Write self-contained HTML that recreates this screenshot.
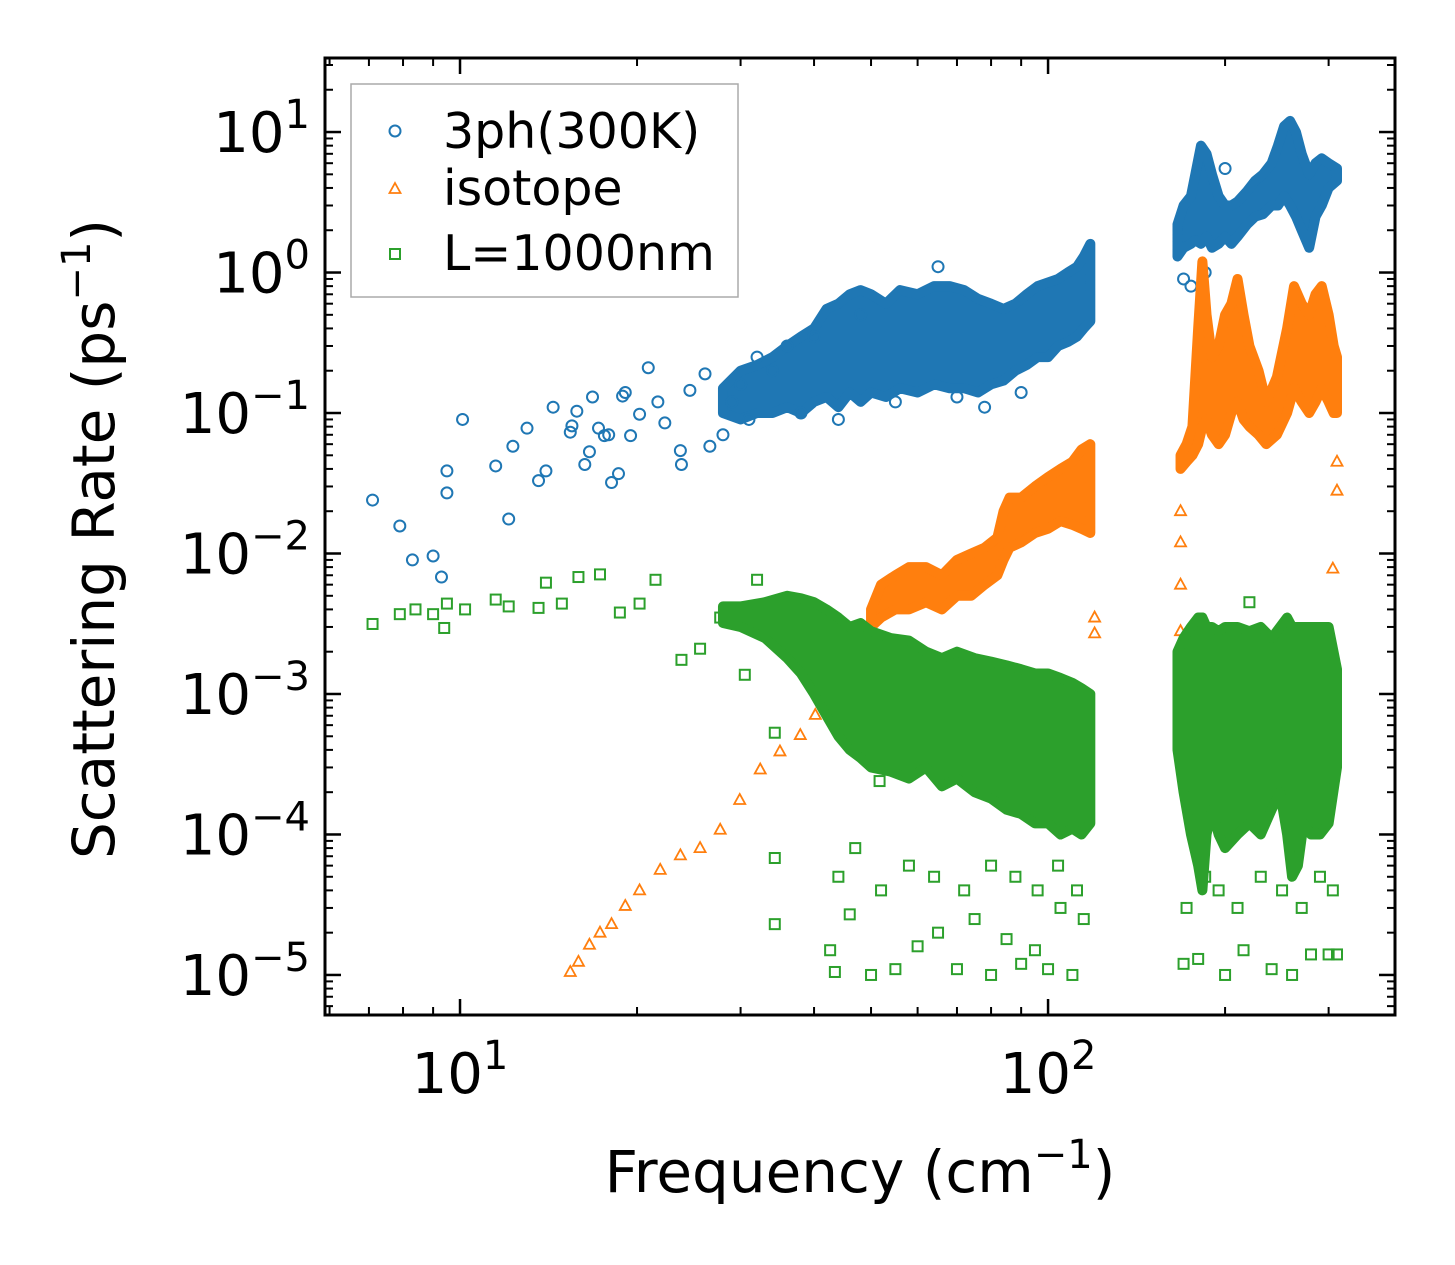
<!DOCTYPE html>
<html><head><meta charset="utf-8">
<style>
html,body{margin:0;padding:0;background:#fff;}
svg{display:block;font-family:"DejaVu Sans","Liberation Sans",sans-serif;}
</style></head>
<body>
<svg id="chart" width="1455" height="1265" viewBox="0 0 1455 1265" xmlns="http://www.w3.org/2000/svg">
<g id="marks"></g>
<g id="axes"></g>
</svg>
<script>
// ---- data ----
const blueF = [7.1,7.9,8.3,9.0,9.3,9.5,9.5,10.1,11.5,12.1,12.3,13.0,13.6,14.0,14.4,15.4,15.5,15.8,16.3,16.6,16.8,17.2,17.6,17.9,18.1,18.6,18.9,19.1,19.5,20.2,20.9,21.7,22.3,23.7,23.8,24.6,26.1,26.6,28,29,30,31,32,34,36,38,40,44,48,55,65,70,78,90,170,175,200,185];
const blueV = [0.024,0.0157,0.009,0.0096,0.0068,0.027,0.0387,0.09,0.042,0.0176,0.058,0.078,0.033,0.0387,0.11,0.073,0.081,0.103,0.043,0.053,0.13,0.078,0.069,0.07,0.032,0.037,0.132,0.14,0.069,0.098,0.21,0.12,0.085,0.054,0.043,0.145,0.19,0.058,0.07,0.12,0.16,0.09,0.25,0.2,0.3,0.1,0.35,0.09,0.5,0.12,1.1,0.13,0.11,0.14,0.9,0.8,5.5,1.0];
const blueBandF1 = [28,30,32,34,36,38,40,42,44,46,48,50,53,56,60,64,68,72,76,80,84,88,92,96,100,104,108,112,115,118];
const blueBandLo1 = [0.1,0.09,0.1,0.1,0.11,0.1,0.12,0.13,0.11,0.14,0.12,0.14,0.13,0.15,0.14,0.16,0.15,0.15,0.14,0.16,0.17,0.2,0.22,0.25,0.25,0.3,0.32,0.35,0.4,0.45];
const blueBandHi1 = [0.15,0.2,0.22,0.25,0.3,0.35,0.4,0.55,0.6,0.7,0.75,0.7,0.6,0.75,0.7,0.8,0.8,0.75,0.65,0.6,0.55,0.6,0.7,0.8,0.85,0.9,1.0,1.1,1.3,1.6];
const blueBandF2 = [166,170,175,178,182,186,190,195,200,205,210,218,225,232,240,246,252,258,264,270,278,285,292,300,310];
const blueBandLo2 = [1.3,1.5,1.6,1.7,1.6,1.8,1.5,1.6,1.8,1.6,1.8,2.2,2.5,2.6,3.0,3.0,3.5,3.0,2.5,2.0,1.5,2.5,3.0,4.0,4.5];
const blueBandHi2 = [2.2,3.0,3.5,5.0,8.0,7.0,5.0,3.5,3.0,3.0,3.2,3.8,4.5,5.0,6.0,8.0,11,12,10,7.0,5.0,6.0,6.5,6.0,5.5];
const orangeF = [15.4,15.9,16.6,17.3,18.1,19.1,20.2,21.9,23.7,25.6,27.7,29.9,32.4,35.0,37.9,40.2,41.7,168,168,168,168,305,310,310,120,120,168,44,48];
const orangeV = [1.05e-5,1.24e-5,1.64e-5,2.0e-5,2.3e-5,3.1e-5,4.0e-5,5.6e-5,7.1e-5,8.0e-5,1.08e-4,1.76e-4,2.9e-4,3.9e-4,5.1e-4,7.1e-4,9.1e-4,0.02,0.012,0.006,0.0028,0.0078,0.028,0.045,0.0035,0.0027,0.0016,0.0012,0.0025];
const orangeBandF1 = [50,52,55,58,62,66,70,74,78,82,84,86,90,95,100,105,110,114,118];
const orangeBandLo1 = [0.003,0.0035,0.004,0.004,0.0045,0.004,0.005,0.005,0.006,0.007,0.009,0.011,0.012,0.014,0.015,0.017,0.016,0.015,0.014];
const orangeBandHi1 = [0.004,0.006,0.007,0.008,0.008,0.007,0.009,0.01,0.011,0.013,0.02,0.025,0.025,0.03,0.035,0.04,0.045,0.055,0.06];
const orangeBandF2 = [168,172,176,180,183,186,190,195,200,205,210,215,220,228,235,245,255,262,270,278,285,292,300,306,310];
const orangeBandLo2 = [0.04,0.045,0.05,0.06,0.08,0.09,0.07,0.06,0.07,0.1,0.12,0.09,0.08,0.07,0.06,0.07,0.1,0.15,0.12,0.1,0.12,0.15,0.12,0.1,0.1];
const orangeBandHi2 = [0.05,0.06,0.08,0.4,1.2,0.5,0.25,0.3,0.5,0.6,0.9,0.5,0.3,0.2,0.12,0.18,0.4,0.8,0.6,0.5,0.7,0.8,0.5,0.3,0.25];
const greenF = [7.1,7.9,8.4,9.0,9.4,9.5,10.2,11.5,12.1,13.6,14.0,14.9,15.9,17.3,18.7,20.2,21.5,23.8,25.6,27.7,30.5,32,34.3,34.3,34.3,42.6,43.4,46,51.7,50,55,60,70,80,90,100,110,65,75,85,95,105,115,170,180,200,215,240,260,280,300,310,220,44,47,52,58,64,72,80,88,96,104,112,172,185,195,210,230,250,270,290,305];
const greenV = [0.00315,0.0037,0.004,0.0037,0.00295,0.0044,0.004,0.0047,0.0042,0.0041,0.0062,0.0044,0.0068,0.0071,0.0038,0.0044,0.0065,0.00175,0.0021,0.0035,0.00137,0.0065,0.00053,6.8e-5,2.3e-5,1.5e-5,1.05e-5,2.7e-5,2.4e-4,1e-5,1.1e-5,1.6e-5,1.1e-5,1e-5,1.2e-5,1.1e-5,1e-5,2e-5,2.5e-5,1.8e-5,1.5e-5,3e-5,2.5e-5,1.2e-5,1.3e-5,1e-5,1.5e-5,1.1e-5,1e-5,1.4e-5,1.4e-5,1.4e-5,0.0045,5e-5,8e-5,4e-5,6e-5,5e-5,4e-5,6e-5,5e-5,4e-5,6e-5,4e-5,3e-5,5e-5,4e-5,3e-5,5e-5,4e-5,3e-5,5e-5,4e-5];
const greenBandF1 = [28,30,33,36,38,40,42,44,46,48,50,54,58,62,66,70,75,80,85,90,95,100,105,110,114,118];
const greenBandLo1 = [0.0032,0.003,0.0025,0.0018,0.0014,0.001,0.0007,0.0005,0.0004,0.00035,0.0003,0.00028,0.00025,0.0003,0.00022,0.00025,0.0002,0.00018,0.00015,0.00014,0.00012,0.00012,0.0001,0.00011,0.0001,0.00012];
const greenBandHi1 = [0.0042,0.0042,0.0045,0.005,0.0048,0.0045,0.004,0.0035,0.003,0.0032,0.0028,0.0025,0.0024,0.002,0.0018,0.002,0.0018,0.0017,0.0016,0.0015,0.0014,0.0014,0.0013,0.0012,0.0011,0.001];
const greenBandF2 = [166,170,175,180,183,186,190,195,200,210,220,230,240,248,255,260,266,272,280,290,300,310];
const greenBandLo2 = [0.0004,0.0002,0.0001,0.00006,0.00004,0.0001,0.00015,0.0001,0.00008,0.0001,0.00012,0.0001,0.00015,0.0002,0.0001,0.00005,0.00006,0.00012,0.0001,0.0001,0.00012,0.0003];
const greenBandHi2 = [0.002,0.0025,0.003,0.0035,0.0035,0.003,0.003,0.0028,0.003,0.003,0.0028,0.003,0.0025,0.003,0.0035,0.003,0.003,0.003,0.003,0.003,0.003,0.0015];
const xTickVals = [10,100];
const yTickVals = [1e1,1e0,1e-1,1e-2,1e-3,1e-4,1e-5];
const yTickExps = ["1","0","\u22121","\u22122","\u22123","\u22124","\u22125"];

// ---- axes functions ----
const L=325,R=1395,T=58,B=1015;
const xLogMin=0.7704, xLogMax=2.590, yLogMin=-5.285, yLogMax=1.527;
function sx(f){return L+(Math.log10(f)-xLogMin)/(xLogMax-xLogMin)*(R-L);}
function sy(v){return B-(Math.log10(v)-yLogMin)/(yLogMax-yLogMin)*(B-T);}
const NS="http://www.w3.org/2000/svg";
function mk(tag,attrs,parent){const e=document.createElementNS(NS,tag);for(const k in attrs)e.setAttribute(k,attrs[k]);parent.appendChild(e);return e;}
const marks=document.getElementById('marks');
const axes=document.getElementById('axes');
const C={blue:'#1f77b4',orange:'#ff7f0e',green:'#2ca02c'};

function band(F,Lo,Hi,color,name){
  let pts=[];
  for(let i=0;i<F.length;i++)pts.push(sx(F[i])+','+sy(Hi[i]));
  for(let i=F.length-1;i>=0;i--)pts.push(sx(F[i])+','+sy(Lo[i]));
  const p=mk('polygon',{points:pts.join(' '),fill:color,stroke:color,'stroke-width':10,'stroke-linejoin':'round'},marks);
  
  
}
function marker(shape,x,y,color,parent){
  let e;
  if(shape==='circle')e=mk('circle',{cx:x,cy:y,r:5.5,fill:'none',stroke:color,'stroke-width':2},parent);
  else if(shape==='square')e=mk('rect',{x:x-5,y:y-5,width:10,height:10,fill:'none',stroke:color,'stroke-width':2},parent);
  else e=mk('polygon',{points:`${x},${y-6} ${x+5.5},${y+4} ${x-5.5},${y+4}`,fill:'none',stroke:color,'stroke-width':1.8},parent);
  return e;
}
function scatter(F,V,shape,color,name){
  for(let i=0;i<F.length;i++){
    const e=marker(shape,sx(F[i]),sy(V[i]),color,marks);
    
    
  }
}
band(blueBandF1,blueBandLo1,blueBandHi1,C.blue,'3ph-band-low');
band(blueBandF2,blueBandLo2,blueBandHi2,C.blue,'3ph-band-high');
scatter(blueF,blueV,'circle',C.blue,'3ph-point');
band(orangeBandF1,orangeBandLo1,orangeBandHi1,C.orange,'isotope-band-low');
band(orangeBandF2,orangeBandLo2,orangeBandHi2,C.orange,'isotope-band-high');
scatter(orangeF,orangeV,'triangle',C.orange,'isotope-point');
band(greenBandF1,greenBandLo1,greenBandHi1,C.green,'boundary-band-low');
band(greenBandF2,greenBandLo2,greenBandHi2,C.green,'boundary-band-high');
scatter(greenF,greenV,'square',C.green,'boundary-point');

const fr=mk('rect',{x:L,y:T,width:R-L,height:B-T,fill:'none',stroke:'#000','stroke-width':3},axes);


for(let d=0;d<=2;d++){
  for(let m=1;m<10;m++){
    const f=m*Math.pow(10,d);
    const x=sx(f); if(x<L||x>R)continue;
    const len=m===1?16:8;
    mk('line',{x1:x,y1:B,x2:x,y2:B-len,stroke:'#000','stroke-width':m===1?2.5:2},axes);
    mk('line',{x1:x,y1:T,x2:x,y2:T+len,stroke:'#000','stroke-width':m===1?2.5:2},axes);
  }
}
xTickVals.forEach((v,i)=>{
  const t=mk('text',{x:sx(v),y:1093,'font-size':56,'text-anchor':'middle'},axes);
  
  
  t.textContent='10';
  const s=mk('tspan',{dy:-24,'font-size':40},t); s.textContent=String(Math.round(Math.log10(v)));
});
for(let d=-6;d<=1;d++){
  for(let m=1;m<10;m++){
    const v=m*Math.pow(10,d);
    const y=sy(v); if(y<T||y>B)continue;
    const len=m===1?16:8;
    mk('line',{x1:L,y1:y,x2:L+len,y2:y,stroke:'#000','stroke-width':m===1?2.5:2},axes);
    mk('line',{x1:R,y1:y,x2:R-len,y2:y,stroke:'#000','stroke-width':m===1?2.5:2},axes);
  }
}
yTickVals.forEach((v,i)=>{
  const t=mk('text',{x:310,y:sy(v)+20,'font-size':56,'text-anchor':'end'},axes);
  
  
  const b=mk('tspan',{},t); b.textContent='10';
  const s=mk('tspan',{dy:-24,'font-size':40},t); s.textContent=yTickExps[i];
});
</script>
<svg style="position:absolute;left:0;top:0" width="1455" height="1265" font-family="DejaVu Sans, Liberation Sans, sans-serif">
<text x="860" y="1192" font-size="58" text-anchor="middle">Frequency (cm<tspan dy="-24" font-size="40">−1</tspan><tspan dy="24">)</tspan></text>
<text transform="translate(114,539) rotate(-90)" font-size="58" text-anchor="middle">Scattering Rate (ps<tspan dy="-24" font-size="40">−1</tspan><tspan dy="24">)</tspan></text>
<g>
<rect x="351" y="84" width="387" height="213" fill="#fff" fill-opacity="0.8" stroke="#aaa" stroke-width="1.5"/>
<circle cx="395" cy="131" r="5.5" fill="none" stroke="#1f77b4" stroke-width="2"/>
<text x="443" y="148" font-size="49">3ph(300K)</text>
<polygon points="395,183 400.5,193 389.5,193" fill="none" stroke="#ff7f0e" stroke-width="1.8"/>
<text x="443" y="205" font-size="49">isotope</text>
<rect x="390" y="249" width="10" height="10" fill="none" stroke="#2ca02c" stroke-width="2"/>
<text x="443" y="270" font-size="49">L=1000nm</text>
</g>
</svg>
</body></html>
